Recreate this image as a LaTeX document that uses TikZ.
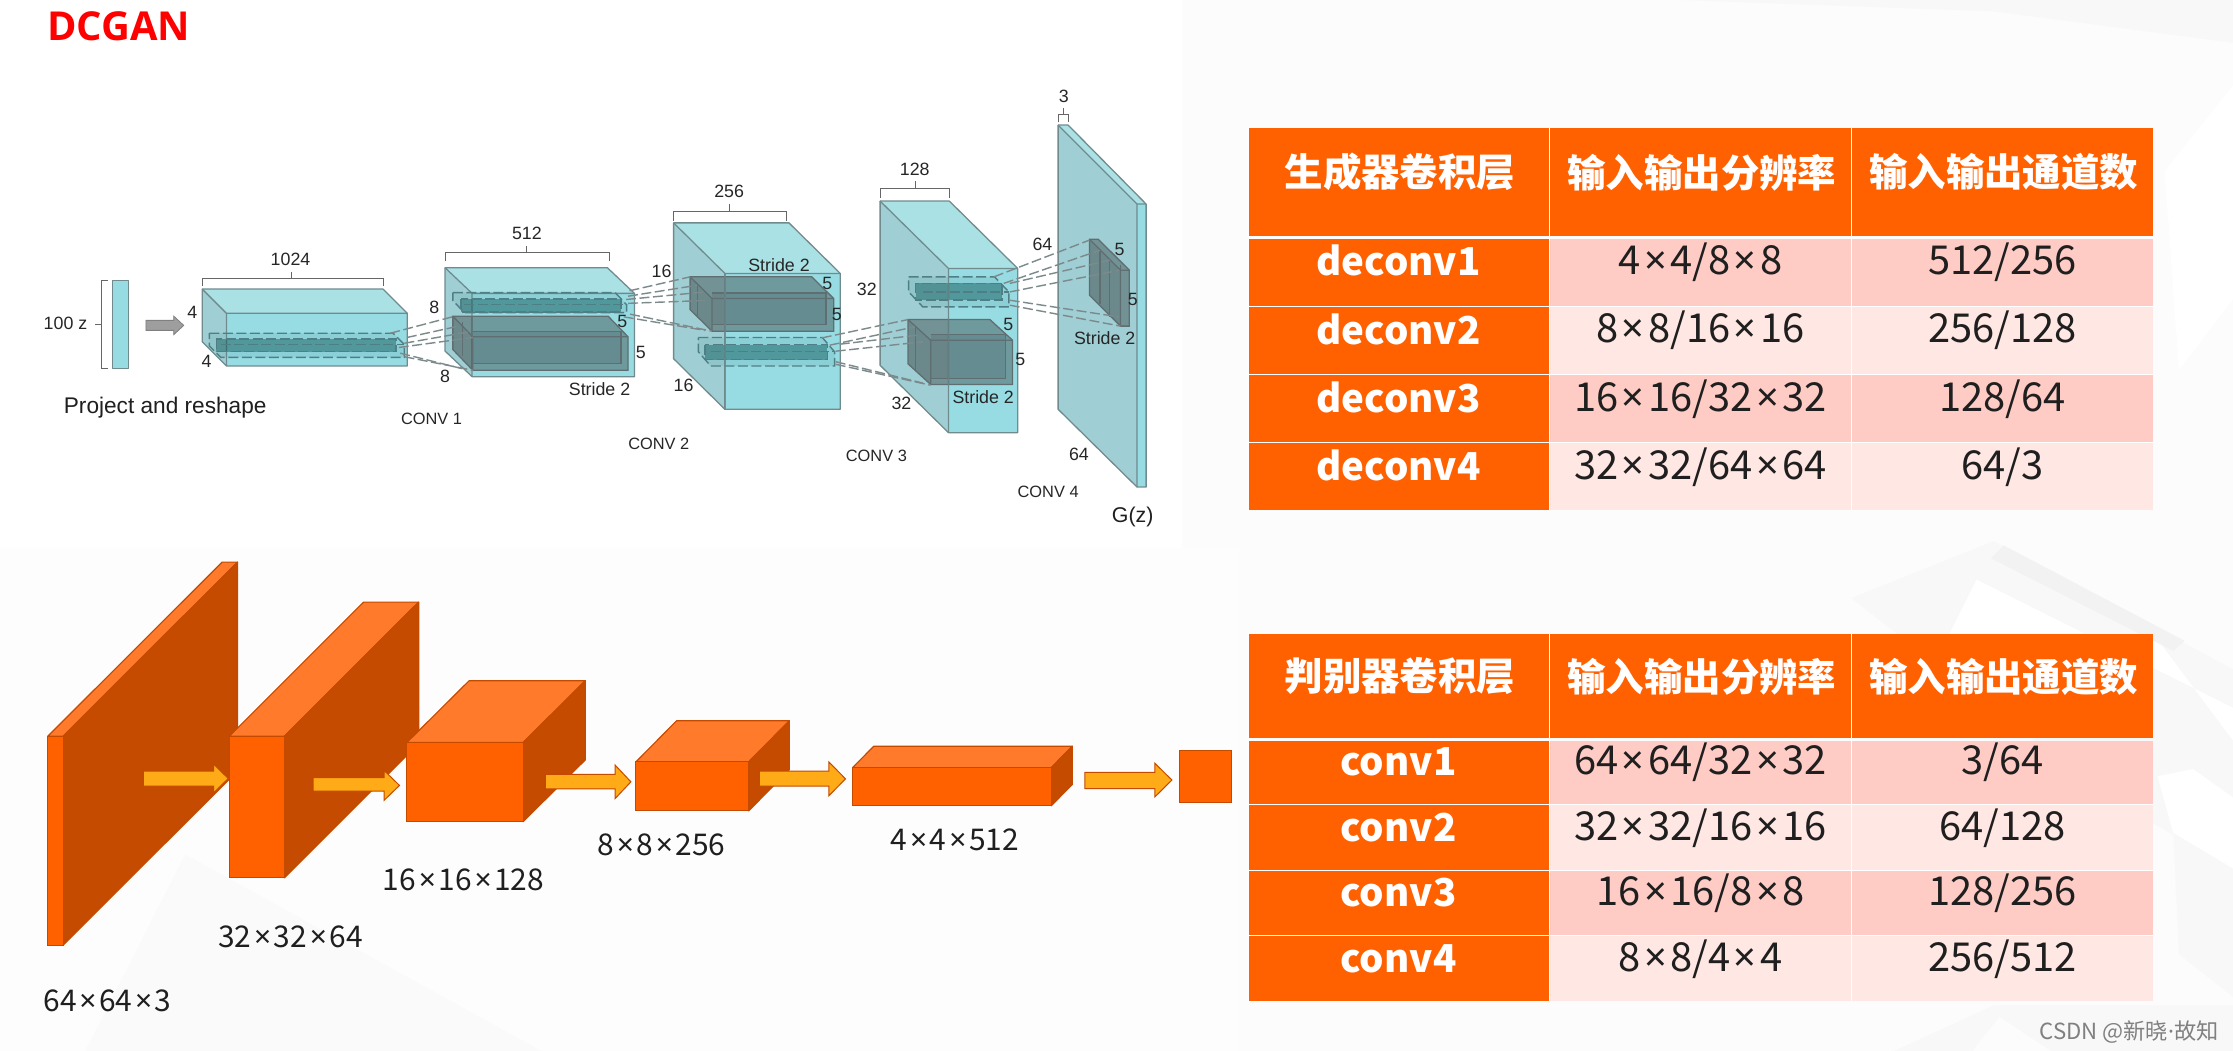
\documentclass[tikz,border=0pt]{standalone}
\usepackage{fontspec}
\setmainfont{Liberation Sans}
\newfontfamily\cjk{Noto Sans CJK SC}
\newfontfamily\hd{Open Sans}
\newfontfamily\nts{Noto Sans}
\newcommand\tms{\kern.09em{\nts ×}\kern.09em}
\definecolor{orA}{HTML}{FF6000}
\definecolor{orT}{HTML}{FF7A2B}
\definecolor{orS}{HTML}{C44A00}
\definecolor{orL}{HTML}{C44B00}
\definecolor{arF}{HTML}{FFAA17}
\definecolor{rowA}{HTML}{FFCCC5}
\definecolor{rowB}{HTML}{FFE7E3}
\definecolor{tT}{HTML}{A9E1E5}
\definecolor{tS}{HTML}{9FCFD4}
\definecolor{tF}{HTML}{98DCE3}
\definecolor{tL}{HTML}{6F8B8E}
\definecolor{gL}{HTML}{5F6E70}
\definecolor{dashc}{HTML}{7C8A8C}
\definecolor{dashb}{HTML}{4F7F84}
\definecolor{bgBase}{HTML}{FCFCFC}
\definecolor{bgSoft}{HTML}{FDFDFD}
\definecolor{bgA}{HTML}{F2F2F2}
\definecolor{bgB}{HTML}{F8F8F8}
\tikzset{
  txt/.style={font=\fontsize{12.5}{14}\selectfont,text=black!85,inner sep=0pt},
  captxt/.style={font=\fontsize{11.5}{14}\selectfont,text=black!85,inner sep=0pt},
  cjklab/.style={font=\cjk\fontsize{21}{24}\selectfont,text=black!88,inner sep=0pt},
  hdr/.style={font=\cjk\bfseries\fontsize{27}{30}\selectfont,text=white,inner sep=0pt},
  rowh/.style={font=\cjk\bfseries\fontsize{27}{30}\selectfont,text=white,inner sep=0pt},
  cellt/.style={font=\cjk\fontsize{28}{30}\selectfont,text=black!88,inner sep=0pt},
  edgeline/.style={draw=tL,line width=.9pt,line join=round},
  brk/.style={draw=black!60,line width=.7pt},
  dl/.style={draw=dashc,line width=1pt,dash pattern=on 7pt off 2.5pt},
}
\newcommand\cuboid[9]{%
  \pgfmathsetmacro\ddx{#3-#1}\pgfmathsetmacro\ddy{#4-#2}
  \pgfmathsetmacro\bb{#6-\ddy}\pgfmathsetmacro\br{#5-\ddx}
  \fill[#7] (#1,#2)--(\br,#2)--(#5,#4)--(#3,#4)--cycle;
  \fill[#8] (#1,#2)--(#3,#4)--(#3,#6)--(#1,\bb)--cycle;
  \fill[#9] (#3,#4) rectangle (#5,#6);
  \draw[edgeline] (#1,#2)--(\br,#2)--(#5,#4)--(#5,#6)--(#3,#6)--(#1,\bb)--cycle;
  \draw[edgeline] (#1,#2)--(#3,#4)--(#5,#4) (#3,#4)--(#3,#6);
}
\newcommand\gbox[9]{%
  \pgfmathsetmacro\ddx{#3-#1}\pgfmathsetmacro\ddy{#4-#2}
  \pgfmathsetmacro\bb{#6-\ddy}\pgfmathsetmacro\br{#5-\ddx}
  \fill[black!70!gray,fill opacity=.36] (#1,#2)--(\br,#2)--(#5,#4)--(#5,#6)--(#3,#6)--(#1,\bb)--cycle;
  \fill[black!80!gray,fill opacity=.1] (#3,#4-3.8) rectangle (#7,#8);
  \fill[black!80!gray,fill opacity=.08] (#1,#2)--(#3,#4)--(#3,#6)--(#1,\bb)--cycle;
  \draw[gL,line width=.9pt] (#1,#2)--(\br,#2)--(#5,#4)--(#5,#6)--(#3,#6)--(#1,\bb)--cycle;
  \draw[gL,line width=.9pt] (#1,#2)--(#3,#4)--(#5,#4) (#3,#4)--(#3,#6);
  \draw[gL,line width=.9pt] (#3,#4-3.8)--(#7,#4-3.8)--(#7,#8)--(#3,#8);
  \draw[gL,line width=.9pt] (#9,#2+\ddy*.3)--(#9,\bb+\ddy*.3);
}
\newcommand\dbox[8]{%
  \pgfmathsetmacro\ddx{#3-#1}\pgfmathsetmacro\ddy{#4-#2}
  \pgfmathsetmacro\bb{#6-\ddy}\pgfmathsetmacro\br{#5-\ddx}
  \fill[teal!70!gray,fill opacity=.12] (#1,#2)--(\br,#2)--(#5,#4)--(#5,#6)--(#3,#6)--(#1,\bb)--cycle;
  \fill[teal!60!black,fill opacity=.42] (#7) rectangle (#8);
  \draw[dl,draw=dashb] (#1,#2)--(\br,#2)--(#5,#4)--(#5,#6)--(#3,#6)--(#1,\bb)--cycle;
  \draw[dl,draw=dashb] (#3,#4)--(#5,#4);
  \draw[dl,draw=dashb] (#7) rectangle (#8);
}
\newcommand\lnk[2]{\draw[dl] (#1)--(#2);}
\newcommand\obox[6]{%
  \pgfmathsetmacro\ddx{#5-#2}\pgfmathsetmacro\ddy{#4-#6}
  \pgfmathsetmacro\bb{#3-\ddy}\pgfmathsetmacro\tlx{#1+\ddx}
  \filldraw[orT,draw=orS,line width=.8pt,line join=round] (#1,#4)--(\tlx,#6)--(#5,#6)--(#2,#4)--cycle;
  \filldraw[orL,draw=orS,line width=.8pt,line join=round] (#2,#4)--(#5,#6)--(#5,\bb)--(#2,#3)--cycle;
  \filldraw[orA,draw=orS,line width=.8pt] (#1,#4) rectangle (#2,#3);
}
\newcommand\oarr[7]{%
  \pgfmathsetmacro\midy{(#6+#7)/2}
  \filldraw[arF,draw=orS,line width=.7pt,line join=miter] (#1,#4)--(#2,#4)--(#2,#6)--(#3,\midy)--(#2,#7)--(#2,#5)--(#1,#5)--cycle;
}
\begin{document}
\begin{tikzpicture}[x=1pt,y=-1pt]
\useasboundingbox (0,0) rectangle (1568,738);
% background
\fill[bgBase] (0,0) rectangle (1568,738);
\fill[bgSoft] (0,385) rectangle (870,738);
\fill[white] (0,0) rectangle (830,385);
\fill[bgB] (1180,0) -- (1568,0) -- (1568,30) -- (1400,8) -- cycle;
\fill[white] (1520,120) -- (1568,60) -- (1568,210) -- (1530,260)--cycle;
\fill[bgB] (1300,420) -- (1400,380) -- (1568,470) -- (1568,610) -- (1480,560) -- cycle;
\fill[white] (1369,445) -- (1388,407) -- (1568,497) -- (1568,520) -- (1512,445)--cycle;
\fill[bgA] (1407,383) -- (1534,450) -- (1526,457) -- (1398,392) -- cycle;
\fill[white] (1515,545) -- (1540,540) -- (1568,560) -- (1568,610) -- (1526,585) -- cycle;
\fill[bgB] (1526,585) -- (1568,610) -- (1568,700) -- (1530,670) -- cycle;
\fill[bgB] (1330,738) -- (1400,706) -- (1568,706) -- (1568,738) -- cycle;
\fill[white!99!black] (1404,714) -- (1440,738) -- (1385,738) -- cycle;
\fill[white!98!black] (60,738) -- (130,600) -- (380,738) -- cycle;
% title
\node[font=\hd\bfseries\fontsize{28}{30}\selectfont,text=red,inner sep=0pt] (title) at (83.5,18.5) {DCGAN};
% ---- generator ----
\fill[tF] (79,197) rectangle (90,259);
\draw[edgeline] (79,197) rectangle (90,259);
\draw[brk] (76,197)--(71.5,197)--(71.5,259)--(76,259) (71.5,228)--(66.5,228);
\node[txt] (z) at (46,227) {100 z};
\filldraw[fill=black!38,draw=black!50,line width=.6pt] (102.5,225)--(122,225)--(122,222)--(129,228.5)--(122,235)--(122,232)--(102.5,232)--cycle;
\node[font=\fontsize{15.9}{18}\selectfont,text=black!88,inner sep=0pt] (pr) at (116,286) {Project and reshape};
% block 1
\cuboid{142}{203}{159}{220}{286}{257}{tT}{tS}{tF}
\dbox{147}{234}{155}{242}{284}{251}{152,238}{278,247}
\node[txt] (a1) at (204,182) {1024};
\draw[brk] (142,201)--(142,195.5)--(269,195.5)--(269,201) (205,195.5)--(205,191);
\node[txt] (a2) at (135,219) {4};
\node[txt] (a3) at (145,254) {4};
% block 2
\cuboid{312.5}{188}{331.5}{206}{445.5}{264.5}{tT}{tS}{tF}
\dbox{318}{205.5}{326}{214}{440}{219.5}{323.6,210}{436,219}
\gbox{318}{222}{332}{236.5}{441}{260}{436}{255}{325}
\node[txt] (b1) at (370,164) {512};
\draw[brk] (312.5,183)--(312.5,177)--(428,177)--(428,183) (370,177)--(370,172.5);
\node[txt] (b2) at (305,216) {8};
\node[txt] (b3) at (312.5,264) {8};
\node[txt] (b4) at (437,225.5) {5};
\node[txt] (b5) at (450,247.5) {5};
\node[txt] (b6) at (421,273.5) {Stride 2};
\node[captxt] (c1) at (303,294) {CONV 1};
% block 3
\cuboid{473}{156.5}{509}{192}{590}{287.4}{tT}{tS}{tF}
\gbox{484.6}{194.4}{500}{209.6}{585.4}{232.6}{580}{228}{490}
\dbox{490.4}{237}{499}{247}{586}{257}{495,242}{581,252.5}
\draw[edgeline,opacity=.7] (509,192)--(509,287.4);
\node[txt] (d1) at (512,134.7) {256};
\draw[brk] (473,155)--(473,148.5)--(552,148.5)--(552,155) (512,148.5)--(512,143.5);
\node[txt] (d2) at (464.6,190.4) {16};
\node[txt] (d3) at (480,270.5) {16};
\node[txt] (d4) at (547,186.4) {Stride 2};
\node[txt] (d5) at (581,199) {5};
\node[txt] (d6) at (587.6,220.6) {5};
\node[captxt] (c2) at (462.6,311.5) {CONV 2};
% block 4
\cuboid{618}{141.2}{666}{188.5}{714.6}{303.8}{tT}{tS}{tF}
\dbox{638}{194.4}{648}{205}{708.4}{215.5}{643,199}{703.5,210.8}
\gbox{637.6}{224.4}{653.5}{238.9}{711}{270}{706.2}{265.8}{643}
\draw[edgeline,opacity=.7] (666,188.5)--(666,303.8);
\node[txt] (e1) at (642.3,118.8) {128};
\draw[brk] (618,139)--(618,132.3)--(667,132.3)--(667,139) (642.5,132.3)--(642.5,127);
\node[txt] (e2) at (608.7,203) {32};
\node[txt] (e3) at (633,283.4) {32};
\node[txt] (e4) at (708,228) {5};
\node[txt] (e5) at (716.5,252.5) {5};
\node[txt] (e6) at (690.4,279) {Stride 2};
\node[captxt] (c3) at (615.4,320) {CONV 3};
% block 5
\fill[tS] (743,87.8)--(798.4,143.3)--(798.4,342)--(743,287.4)--cycle;
\fill[tT] (743,87.8)--(750,87.8)--(804.8,143.3)--(798.4,143.3)--cycle;
\fill[tF] (798.4,143.3) rectangle (804.8,342);
\draw[edgeline] (743,87.8)--(750,87.8)--(804.8,143.3)--(804.8,342)--(798.4,342)--(743,287.4)--cycle;
\draw[edgeline] (743,87.8)--(798.4,143.3)--(804.8,143.3) (798.4,143.3)--(798.4,342);
\gbox{765}{168}{786.8}{189.7}{793}{229}{786.8}{222.5}{772.4}
\draw[gL,line width=.9pt] (779.3,182.7)--(779.3,222.5);
\node[txt] (f1) at (747,67.5) {3};
\draw[brk] (743,86)--(743,80.6)--(750,80.6)--(750,86) (746.7,80.6)--(746.7,76);
\node[txt] (f2) at (732,171.7) {64};
\node[txt] (f3) at (757.6,319) {64};
\node[txt] (f4) at (786.2,175) {5};
\node[txt] (f5) at (795.4,210) {5};
\node[txt] (f6) at (775.7,237.7) {Stride 2};
\node[captxt] (c4) at (736,345.5) {CONV 4};
\node[font=\fontsize{15}{18}\selectfont,text=black!88,inner sep=0pt] (gz) at (795.4,363) {G(z)};
% dashed projections
\lnk{274,234}{318,222.4}\lnk{285.7,237}{322,229}\lnk{284,241}{329.5,233}\lnk{280,244}{332,237}
\lnk{281,248}{325,259}\lnk{284,250.5}{332,260}
\lnk{442,204.2}{484.6,194.4}\lnk{441,208}{489.6,200.3}\lnk{439.6,210.3}{495,205}\lnk{441,213}{495,211}
\lnk{442.4,220.6}{500,232.6}\lnk{438,222.5}{495,232}
\lnk{577,237.3}{637.6,224.4}\lnk{582.6,242.4}{642.3,229.5}\lnk{589.6,241.7}{643.7,235.4}\lnk{586.8,246.6}{648,240}
\lnk{586.8,254}{648,269}\lnk{586.8,255.8}{653.5,270.5}
\lnk{697.9,194.4}{765,168.6}\lnk{704.8,199}{772.4,175.7}\lnk{709,199}{779.3,182.7}\lnk{709,205}{786,189.7}
\lnk{709,210.8}{785.4,222.5}\lnk{709,214.3}{786.8,229}
% ---- discriminator ----
\obox{33.5}{44.3}{663.7}{517}{166.8}{394.7}
\obox{161}{199.7}{616.4}{517}{294}{422.8}
\obox{285.7}{367.3}{577}{521.4}{411}{478}
\obox{446.5}{525.7}{569.4}{535}{554.3}{506.1}
\obox{598.7}{738.2}{565.8}{539}{753}{524}
\filldraw[orA,draw=orS,line width=.8pt] (828,527.2) rectangle (864.6,563.7);
\oarr{100.6}{150}{160.3}{541.5}{552}{536.6}{556.7}
\oarr{219.8}{269.7}{280.5}{546}{555.5}{541}{562}
\oarr{383}{432}{443}{543.8}{554}{537.3}{560.7}
\oarr{533.2}{582}{593.7}{541.5}{552}{535}{558.8}
\oarr{761.8}{811}{822.9}{542.4}{553.7}{536}{559.5}
\node[cjklab] (l1) at (75.5,702.5) {64\tms64\tms3};
\node[cjklab] (l2) at (204,657.5) {32\tms32\tms64};
\node[cjklab] (l3) at (325.5,617.5) {16\tms16\tms128};
\node[cjklab] (l4) at (464.5,593.5) {8\tms8\tms256};
\node[cjklab] (l5) at (670.5,589.5) {4\tms4\tms512};
% ---- table 1 ----
\fill[orA] (877,90) rectangle (1512,166);
\fill[orA] (877,168) rectangle (1088,358);
\fill[rowA] (1088,168) rectangle (1512,215);
\fill[rowB] (1088,215) rectangle (1512,263);
\fill[rowA] (1088,263) rectangle (1512,311);
\fill[rowB] (1088,311) rectangle (1512,358);
\draw[white,line width=.8pt] (1088,90)--(1088,358) (1300,90)--(1300,358)
  (877,215)--(1512,215) (877,263)--(1512,263) (877,311)--(1512,311);
\node[hdr] (t1a) at (983,121) {生成器卷积层};
\node[hdr] (t1b) at (1195,121) {输入输出分辨率};
\node[hdr] (t1c) at (1407,121) {输入输出通道数};
\node[rowh] (r1a) at (982,183) {deconv1};
\node[rowh] (r2a) at (982,231) {deconv2};
\node[rowh] (r3a) at (982,279) {deconv3};
\node[rowh] (r4a) at (982,327) {deconv4};
\node[cellt] (r1b) at (1194,184) {4\tms4/8\tms8};
\node[cellt] (r2b) at (1194,232) {8\tms8/16\tms16};
\node[cellt] (r3b) at (1194,280) {16\tms16/32\tms32};
\node[cellt] (r4b) at (1194,328) {32\tms32/64\tms64};
\node[cellt] (r1c) at (1406,184) {512/256};
\node[cellt] (r2c) at (1406,232) {256/128};
\node[cellt] (r3c) at (1406,280) {128/64};
\node[cellt] (r4c) at (1406,328) {64/3};
% ---- table 2 ----
\fill[orA] (877,445) rectangle (1512,518);
\fill[orA] (877,520) rectangle (1088,703);
\fill[rowA] (1088,520) rectangle (1512,565);
\fill[rowB] (1088,565) rectangle (1512,611);
\fill[rowA] (1088,611) rectangle (1512,657);
\fill[rowB] (1088,657) rectangle (1512,703);
\draw[white,line width=.8pt] (1088,445)--(1088,703) (1300,445)--(1300,703)
  (877,565)--(1512,565) (877,611)--(1512,611) (877,657)--(1512,657);
\node[hdr] (t2a) at (983,475) {判别器卷积层};
\node[hdr] (t2b) at (1195,475) {输入输出分辨率};
\node[hdr] (t2c) at (1407,475) {输入输出通道数};
\node[rowh] (s1a) at (982,535) {conv1};
\node[rowh] (s2a) at (982,581) {conv2};
\node[rowh] (s3a) at (982,627) {conv3};
\node[rowh] (s4a) at (982,673) {conv4};
\node[cellt] (s1b) at (1194,535.5) {64\tms64/32\tms32};
\node[cellt] (s2b) at (1194,581.5) {32\tms32/16\tms16};
\node[cellt] (s3b) at (1194,627.5) {16\tms16/8\tms8};
\node[cellt] (s4b) at (1194,673.5) {8\tms8/4\tms4};
\node[cellt] (s1c) at (1406,535.5) {3/64};
\node[cellt] (s2c) at (1406,581.5) {64/128};
\node[cellt] (s3c) at (1406,627.5) {128/256};
\node[cellt] (s4c) at (1406,673.5) {256/512};
% watermark
\node[font=\cjk\fontsize{15.6}{17}\selectfont,text=black!50,inner sep=0pt] (wm) at (1495,725) {CSDN @新晓{\nts ·}故知};
\end{tikzpicture}
\end{document}
